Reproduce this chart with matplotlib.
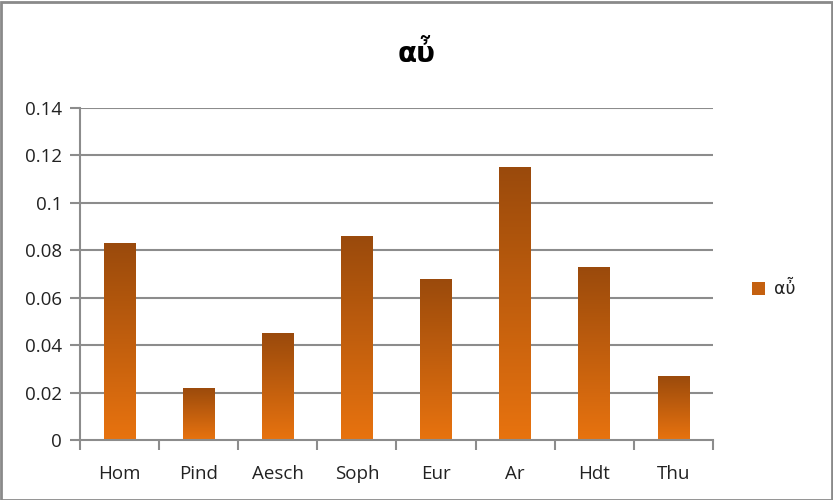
import matplotlib
matplotlib.use("Agg")
import matplotlib.pyplot as plt
import numpy as np
from matplotlib.colors import LinearSegmentedColormap
from matplotlib.patches import Rectangle

categories = ["Hom", "Pind", "Aesch", "Soph", "Eur", "Ar", "Hdt", "Thu"]
values = [0.083, 0.022, 0.045, 0.086, 0.068, 0.115, 0.073, 0.027]
yticks = [0, 0.02, 0.04, 0.06, 0.08, 0.1, 0.12, 0.14]
ytick_labels = ["0", "0.02", "0.04", "0.06", "0.08", "0.1", "0.12", "0.14"]
series_name = "αὖ"
title = "αὖ"

W, H = 833, 500
fig = plt.figure(figsize=(W / 100, H / 100), dpi=100)
ax = fig.add_axes([80 / W, 1 - 440 / H, 633 / W, 332 / H])

grid_c = "#8c8c8c"
ax.set_xlim(0, len(categories))
ax.set_ylim(0, 0.14)
for y in yticks[1:]:
    ax.axhline(y, color=grid_c, lw=1.5, zorder=1)

cmap = LinearSegmentedColormap.from_list("g", ["#e8730f", "#9a4a0c"])
grad = np.linspace(0, 1, 256).reshape(-1, 1)
bw = 0.4
for i, v in enumerate(values):
    x0 = i + 0.5 - bw / 2
    im = ax.imshow(grad, extent=[x0, x0 + bw, 0, v], origin="lower", cmap=cmap,
                   aspect="auto", zorder=2, interpolation="bilinear")
    r = Rectangle((x0, 0), bw, v, transform=ax.transData, facecolor="none",
                  edgecolor="none")
    ax.add_patch(r)
    im.set_clip_path(r)
ax.set_xlim(0, len(categories))
ax.set_ylim(0, 0.14)

ax.set_yticks(yticks)
ax.set_yticklabels(ytick_labels)
ax.set_xticks(np.arange(len(categories)) + 0.5)
ax.set_xticklabels(categories)
ax.set_xticks(np.arange(len(categories) + 1), minor=True)
ax.tick_params(axis="x", which="major", length=0, pad=18)
ax.tick_params(axis="x", which="minor", length=7, width=1.5, color=grid_c)
ax.tick_params(axis="y", length=7, width=1.5, color=grid_c, pad=6)
for lab in ax.get_xticklabels() + ax.get_yticklabels():
    lab.set_fontsize(13.5)
    lab.set_family(["Open Sans", "DejaVu Sans"])
    lab.set_color("#222222")

for s in ["top", "right"]:
    ax.spines[s].set_visible(False)
for s in ["left", "bottom"]:
    ax.spines[s].set_color(grid_c)
    ax.spines[s].set_linewidth(1.5)

fig.text(0.5, 1 - 54 / H, title, ha="center", va="center", fontsize=20,
         fontweight="bold", family=["DejaVu Sans"])

# legend
fig.patches.append(Rectangle((752 / W, 1 - 295 / H), 13 / W, 13 / H,
                             transform=fig.transFigure, facecolor="#c4600f",
                             edgecolor="none"))
fig.text(774 / W, 1 - 289 / H, series_name, ha="left", va="center", fontsize=12.5,
         family=["DejaVu Sans"], color="#222222")

# figure border
fig.patches.append(Rectangle((0.5 / W, 0.5 / H), 1 - 2 / W, 1 - 2 / H,
                             transform=fig.transFigure, facecolor="none",
                             edgecolor="#8a8a8a", lw=2))

fig.savefig("out.png", dpi=100)
